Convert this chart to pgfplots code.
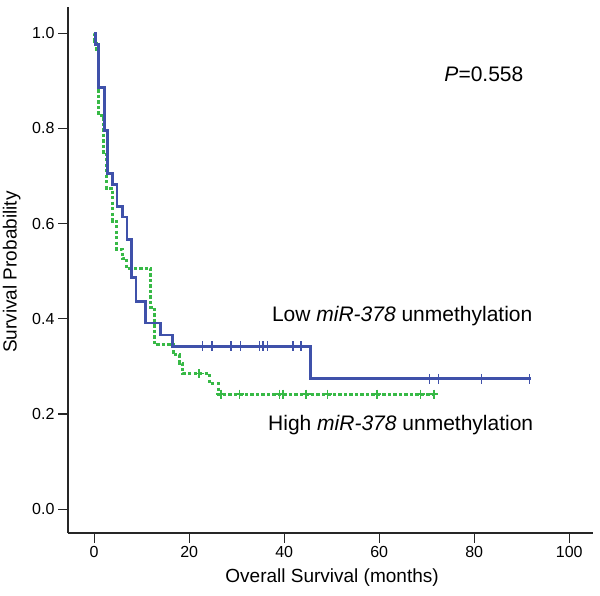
\documentclass[border=0pt]{standalone}
\usepackage{fontspec}
\setmainfont{Liberation Sans}
\usepackage{pgfplots}
\pgfplotsset{compat=1.18}
\definecolor{kmblue}{RGB}{63,81,170}
\definecolor{kmgreen}{RGB}{55,185,70}
\begin{document}
\begin{tikzpicture}
\begin{axis}[
  name=ax,
  scale only axis, width=525bp, height=526bp,
  xmin=-5.5, xmax=105, ymin=-0.05, ymax=1.055,
  axis x line=bottom, axis y line=left,
  axis line style={-, line width=1.2bp, black!85},
  xtick={0,20,40,60,80,100}, ytick={0,0.2,0.4,0.6,0.8,1},
  tick align=outside, major tick length=10bp,
  tick style={line width=1.2bp, black!85},
  yticklabel style={/pgf/number format/.cd, fixed, fixed zerofill, precision=1},
  ticklabel style={font=\fontsize{16bp}{18bp}\selectfont},
  /pgf/number format/assume math mode=true,
  xlabel={Overall Survival (months)}, ylabel={Survival Probability},
  label style={font=\fontsize{19bp}{22bp}\selectfont},
  xlabel style={at={(axis description cs:0.503,-0.084)}, anchor=center},
  ylabel style={at={(axis description cs:-0.107,0.496)}, anchor=center, rotate=0},
  clip=false,
]
% High miR-378 unmethylation (green dotted)
\addplot[const plot, kmgreen, line width=3bp, dash pattern=on 3.2bp off 2.3bp] coordinates {
(0,1)(0.05,0.983)(0.5,0.966)(0.9,0.828)(1.95,0.745)(2.66,0.674)(3.9,0.605)(4.76,0.546)(5.9,0.527)(6.86,0.506)(11.95,0.424)(12.8,0.345)(16.6,0.324)(18.0,0.307)(18.7,0.285)(24.3,0.264)(26.1,0.242)(71.5,0.242)};
\addplot[only marks, kmgreen, mark=+, mark size=4.5bp, mark options={line width=1.8bp, solid}] coordinates {
(22.1,0.285)(26.7,0.242)(30.6,0.242)(39.0,0.242)(39.7,0.242)(44.6,0.242)(49.1,0.242)(59.5,0.242)(68.7,0.242)(71.5,0.242)};
% Low miR-378 unmethylation (blue solid)
\addplot[const plot, kmblue, line width=2.8bp] coordinates {
(0,1)(0.3,0.977)(0.9,0.886)(2.1,0.795)(2.8,0.705)(3.9,0.682)(4.8,0.636)(5.9,0.614)(6.9,0.566)(7.9,0.487)(8.8,0.437)(10.8,0.391)(14.0,0.366)(16.5,0.342)(45.6,0.274)(92,0.274)};
\addplot[only marks, kmblue, mark=|, mark size=5bp, mark options={line width=1.6bp}] coordinates {
(22.8,0.342)(24.8,0.342)(28.8,0.342)(30.8,0.342)(34.8,0.342)(35.6,0.342)(36.5,0.342)(41.8,0.342)(43.5,0.342)
(70.6,0.274)(72.5,0.274)(81.5,0.274)(91.6,0.274)};
\node[anchor=west, font=\fontsize{21bp}{24bp}\selectfont, inner sep=0pt] at (axis cs:73.7,0.914) {\textit{P}=0.558};
\node[anchor=west, font=\fontsize{21bp}{24bp}\selectfont, inner sep=0pt] at (axis cs:37.4,0.405) {Low \textit{miR-378} unmethylation};
\node[anchor=west, font=\fontsize{21bp}{24bp}\selectfont, inner sep=0pt] at (axis cs:36.6,0.176) {High \textit{miR-378} unmethylation};
\end{axis}
\pgfresetboundingbox
\path[use as bounding box] ([xshift=-68bp,yshift=-63bp]ax.south west) rectangle ([xshift=532bp,yshift=533bp]ax.south west);
\end{tikzpicture}
\end{document}
